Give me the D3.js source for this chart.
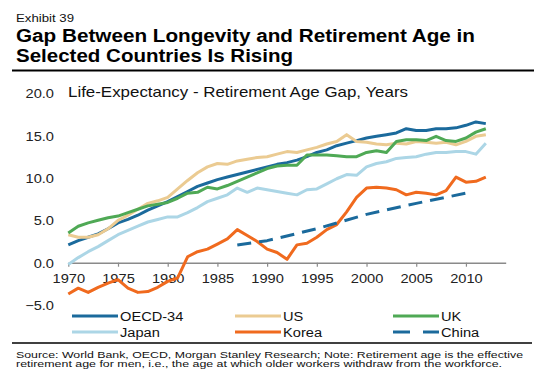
<!DOCTYPE html>
<html>
<head>
<meta charset="utf-8">
<script src="https://cdn.jsdelivr.net/npm/d3@7/dist/d3.min.js"></script>
<style>
  html, body { margin: 0; padding: 0; background: #fff; }
  svg { display: block; font-family: "Liberation Sans", Arial, sans-serif; }
</style>
</head>
<body>
<svg id="chart" width="548" height="387"></svg>
<script>
// ---------- DATA ----------
const years = d3.range(1970, 2013);
const oecd = [2.1, 2.6, 3.0, 3.4, 4.0, 4.7, 5.1, 5.6, 6.2, 6.7, 7.2, 7.8, 8.4, 9.0, 9.4, 9.8, 10.1, 10.4, 10.7, 11.0, 11.3, 11.6, 11.8, 12.1, 12.5, 13.0, 13.3, 13.8, 14.1, 14.4, 14.7, 14.9, 15.1, 15.3, 15.8, 15.6, 15.6, 15.8, 15.8, 15.9, 16.2, 16.6, 16.4];
const us = [3.3, 3.0, 3.0, 3.3, 4.0, 5.0, 5.6, 6.3, 7.0, 7.3, 7.7, 8.7, 9.7, 10.6, 11.3, 11.7, 11.6, 12.0, 12.2, 12.4, 12.5, 12.8, 13.1, 13.0, 13.3, 13.6, 14.0, 14.3, 15.1, 14.3, 14.2, 14.0, 13.9, 14.1, 14.0, 14.3, 14.2, 14.1, 14.2, 13.9, 14.3, 14.9, 15.1];
const uk = [3.5, 4.3, 4.7, 5.0, 5.3, 5.5, 5.9, 6.3, 6.7, 6.9, 7.1, 7.6, 8.2, 8.3, 8.9, 8.7, 9.1, 9.6, 10.1, 10.6, 11.1, 11.4, 11.5, 11.5, 12.7, 12.7, 12.7, 12.6, 12.5, 12.5, 13.0, 13.2, 13.0, 14.3, 14.5, 14.5, 14.4, 14.9, 14.4, 14.3, 14.7, 15.4, 15.8];
const japan = [-0.2, 0.6, 1.3, 1.9, 2.6, 3.3, 3.8, 4.3, 4.8, 5.1, 5.4, 5.4, 5.9, 6.5, 7.2, 7.6, 8.0, 8.8, 8.3, 8.8, 8.6, 8.4, 8.2, 8.0, 8.6, 8.7, 9.3, 9.9, 10.4, 10.3, 11.3, 11.7, 11.9, 12.3, 12.4, 12.5, 12.8, 13.0, 13.0, 13.1, 13.1, 12.8, 14.1];
const korea = [-3.7, -3.0, -3.5, -2.9, -2.4, -2.0, -3.0, -3.5, -3.4, -2.9, -2.2, -1.8, 0.7, 1.3, 1.6, 2.2, 2.8, 3.9, 3.2, 2.5, 1.6, 1.2, 0.4, 2.1, 2.3, 3.0, 3.9, 4.5, 6.0, 7.7, 8.8, 8.9, 8.8, 8.6, 8.0, 8.3, 8.2, 8.0, 8.5, 10.1, 9.5, 9.6, 10.1];
const chinaYears = [1987, 1990, 1995, 2000, 2005, 2010];
const china = [2.1, 2.6, 4.0, 5.7, 7.0, 8.2];
const xTickYears = [1970, 1975, 1980, 1985, 1990, 1995, 2000, 2005, 2010];
const yTickValues = [-5, 0, 5, 10, 15, 20];
const seriesNames = ["OECD-34", "US", "UK", "Japan", "Korea", "China"];

// ---------- STYLE ----------
const colors = {"OECD-34": "#1b6a9c", "US": "#ebcb92", "UK": "#4fa955", "Japan": "#acd6e6", "Korea": "#f06a1e", "China": "#1b6a9c"};
const STRETCH = 1.17;

const svg = d3.select("#chart");
function stretch(sel, factor) {
  sel.each(function () {
    const w = this.getComputedTextLength();
    this.setAttribute("textLength", w * (factor || STRETCH));
    this.setAttribute("lengthAdjust", "spacingAndGlyphs");
  });
}

// ---------- HEADER ----------
svg.append("text").attr("x", 16).attr("y", 22).attr("font-size", 11).attr("fill", "#111")
  .text("Exhibit 39").attr("textLength", 58).attr("lengthAdjust", "spacingAndGlyphs");
svg.append("text").attr("x", 16).attr("y", 42).attr("font-size", 17.5).attr("font-weight", "bold").attr("fill", "#000")
  .text("Gap Between Longevity and Retirement Age in").attr("textLength", 459).attr("lengthAdjust", "spacingAndGlyphs");
svg.append("text").attr("x", 16).attr("y", 62).attr("font-size", 17.5).attr("font-weight", "bold").attr("fill", "#000")
  .text("Selected Countries Is Rising").attr("textLength", 277).attr("lengthAdjust", "spacingAndGlyphs");
svg.append("line").attr("x1", 12).attr("x2", 534).attr("y1", 70.5).attr("y2", 70.5).attr("stroke", "#000").attr("stroke-width", 1.8);

// ---------- SCALES ----------
const x = d3.scaleLinear().domain([1970, 2014]).range([68.3, 505.7]);
const y = d3.scaleLinear().domain([-5, 20]).range([305.1, 93.1]);

// subtitle
svg.append("text").attr("x", 68).attr("y", 97).attr("font-size", 14.5).attr("fill", "#111")
  .text("Life-Expectancy - Retirement Age Gap, Years").attr("textLength", 340).attr("lengthAdjust", "spacingAndGlyphs");

// y tick labels (no axis line)
const yAxis = d3.axisLeft(y).tickValues(yTickValues).tickFormat(d3.format(".1f")).tickSize(0).tickPadding(0);
const gy = svg.append("g").attr("transform", "translate(54,0)").call(yAxis);
gy.select(".domain").remove();
gy.selectAll("text").attr("font-size", 12.5).attr("fill", "#222").attr("font-family", "Liberation Sans, Arial, sans-serif").attr("dy", "0.36em");
stretch(gy.selectAll("text"));

// x axis at zero
const xAxis = d3.axisBottom(x).tickValues(xTickYears).tickFormat(d3.format("d")).tickSizeInner(4).tickSizeOuter(0).tickPadding(7);
const gx = svg.append("g").attr("transform", `translate(0,${y(0)})`).call(xAxis);
gx.select(".domain").attr("stroke", "#8a8a8a").attr("stroke-width", 1.5);
gx.selectAll(".tick line").attr("stroke", "#8a8a8a").attr("stroke-width", 1.2);
gx.selectAll("text").attr("font-size", 12.5).attr("fill", "#222").attr("font-family", "Liberation Sans, Arial, sans-serif");
stretch(gx.selectAll("text"));

// ---------- LINES ----------
const line = d3.line().x(d => x(d[0])).y(d => y(d[1])).curve(d3.curveLinear);
const seriesData = [
  {name: "OECD-34", pts: years.map((yr, i) => [yr, oecd[i]])},
  {name: "US", pts: years.map((yr, i) => [yr, us[i]])},
  {name: "UK", pts: years.map((yr, i) => [yr, uk[i]])},
  {name: "Japan", pts: years.map((yr, i) => [yr, japan[i]])},
  {name: "Korea", pts: years.map((yr, i) => [yr, korea[i]])},
  {name: "China", pts: chinaYears.map((yr, i) => [yr, china[i]]), dash: "14,8"}
];
svg.append("g").selectAll("path").data(seriesData).join("path")
  .attr("d", d => line(d.pts))
  .attr("fill", "none")
  .attr("stroke", d => colors[d.name])
  .attr("stroke-width", 3)
  .attr("stroke-linejoin", "round")
  .attr("stroke-dasharray", d => d.dash || null);

// ---------- LEGEND ----------
const legendCols = [72, 235, 393];
const legendRows = [316, 332];
const lg = svg.append("g");
seriesNames.forEach((name, i) => {
  const cx = legendCols[i % 3], cy = legendRows[Math.floor(i / 3)];
  if (name === "China") {
    lg.append("line").attr("x1", cx).attr("x2", cx + 17).attr("y1", cy).attr("y2", cy).attr("stroke", colors[name]).attr("stroke-width", 3);
    lg.append("line").attr("x1", cx + 30).attr("x2", cx + 46).attr("y1", cy).attr("y2", cy).attr("stroke", colors[name]).attr("stroke-width", 3);
  } else {
    lg.append("line").attr("x1", cx).attr("x2", cx + 46).attr("y1", cy).attr("y2", cy).attr("stroke", colors[name]).attr("stroke-width", 3);
  }
  const t = lg.append("text").attr("x", cx + 48).attr("y", cy).attr("dy", "0.36em").attr("font-size", 12.5).attr("fill", "#111").text(name);
  stretch(t);
});

// bottom rule
svg.append("line").attr("x1", 12).attr("x2", 532).attr("y1", 343).attr("y2", 343).attr("stroke", "#000").attr("stroke-width", 1.6);

// footer
svg.append("text").attr("x", 16).attr("y", 358).attr("font-size", 8.6).attr("fill", "#111")
  .text("Source: World Bank, OECD, Morgan Stanley Research; Note: Retirement age is the effective")
  .attr("textLength", 507).attr("lengthAdjust", "spacingAndGlyphs");
svg.append("text").attr("x", 16).attr("y", 367).attr("font-size", 8.6).attr("fill", "#111")
  .text("retirement age for men, i.e., the age at which older workers withdraw from the workforce.")
  .attr("textLength", 486).attr("lengthAdjust", "spacingAndGlyphs");
</script>
</body>
</html>
